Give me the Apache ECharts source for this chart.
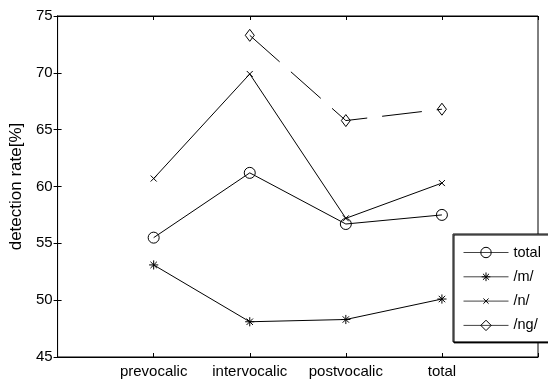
<!DOCTYPE html>
<html>
<head>
<meta charset="utf-8">
<script src="https://cdn.jsdelivr.net/npm/echarts@6/dist/echarts.min.js"></script>
<style>
html,body{margin:0;padding:0;background:#fff;}
#chart{width:548px;height:380px;}
</style>
</head>
<body>
<div id="chart"></div>
<script>
// ---- data ----
var categories = ['prevocalic', 'intervocalic', 'postvocalic', 'total'];
var totalRate = [55.5, 61.2, 56.7, 57.5];
var mRate = [53.1, 48.1, 48.3, 50.1];
var nRate = [60.7, 69.9, 57.2, 60.3];
var ngRate = [null, 73.3, 65.8, 66.8];
var yTicks = [45, 50, 55, 60, 65, 70, 75];

function pairs(arr) {
  var out = [];
  arr.forEach(function (v, i) { if (v !== null) out.push([i + 1, v]); });
  return out;
}

// glyphs with padded bounding boxes (moveTo points enlarge the box)
var asterisk = 'path://M-12,-12 M12,12 M0,-10 L0,10 M-10,0 L10,0 M-7,-7 L7,7 M-7,7 L7,-7';
var cross = 'path://M-20,-20 M20,20 M-10,-10 L10,10 M-10,10 L10,-10';
var diamond = 'path://M0,-10 L7.5,0 L0,10 L-7.5,0 Z';

function mk(name, arr, symbol, size, dash) {
  return {
    name: name,
    type: 'line',
    data: pairs(arr),
    symbol: symbol,
    symbolSize: size,
    symbolKeepAspect: true,
    showSymbol: true,
    animation: false,
    lineStyle: { color: '#000', width: 1, type: dash || 'solid' },
    itemStyle: { color: 'rgba(0,0,0,0)', borderColor: '#000', borderWidth: 1 },
    emphasis: { disabled: true }
  };
}

var chart = echarts.init(document.getElementById('chart'), null, { renderer: 'canvas' });
var font = 'Liberation Sans, Arial, sans-serif';
chart.setOption({
  backgroundColor: '#fff',
  animation: false,
  textStyle: { fontFamily: font, color: '#000' },
  grid: { left: 53, right: 10, top: 16, bottom: 23, show: true, borderColor: '#000', borderWidth: 1, backgroundColor: 'transparent' },
  legend: {
    left: 453, top: 234,
    orient: 'vertical',
    data: ['total', '/m/', '/n/', '/ng/'],
    backgroundColor: '#fff',
    borderColor: '#000',
    borderWidth: 1,
    shadowColor: '#000', shadowOffsetX: 1, shadowOffsetY: 1, shadowBlur: 0,
    padding: [11, 60, 9, 10],
    itemWidth: 45, itemHeight: 13, itemGap: 9.3,
    lineStyle: { width: 1, type: 'solid', color: '#444' },
    itemStyle: { borderWidth: 1, borderColor: '#000', color: 'rgba(0,0,0,0)' },
    textStyle: { fontSize: 14.5, fontFamily: font, color: '#000' },
    selectedMode: false
  },
  xAxis: [{
    type: 'value', min: 0, max: 5, interval: 1,
    axisLine: { show: true, lineStyle: { color: '#000' } },
    axisTick: { show: true, inside: true, length: 4, lineStyle: { color: '#000' } },
    splitLine: { show: false },
    axisLabel: {
      fontSize: 15, color: '#000', margin: 7, fontFamily: font,
      formatter: function (v) { return (v >= 1 && v <= categories.length) ? categories[v - 1] : ''; }
    }
  }, {
    type: 'value', min: 0, max: 5, interval: 1, position: 'top',
    axisLine: { show: true, lineStyle: { color: '#000' } },
    axisTick: { show: true, inside: true, length: 4, lineStyle: { color: '#000' } },
    splitLine: { show: false },
    axisLabel: { show: false }
  }],
  yAxis: [{
    type: 'value', min: yTicks[0], max: yTicks[yTicks.length - 1], interval: 5,
    name: 'detection rate[%]', nameLocation: 'middle', nameGap: 27,
    nameTextStyle: { fontSize: 17, color: '#000', fontFamily: font },
    axisLine: { show: true, lineStyle: { color: '#000' } },
    axisTick: { show: true, inside: true, length: 4, lineStyle: { color: '#000' } },
    splitLine: { show: false },
    axisLabel: { fontSize: 15, color: '#000', margin: 5, fontFamily: font }
  }, {
    type: 'value', min: yTicks[0], max: yTicks[yTicks.length - 1], interval: 5, position: 'right',
    axisLine: { show: true, lineStyle: { color: '#000' } },
    axisTick: { show: true, inside: true, length: 4, lineStyle: { color: '#000' } },
    splitLine: { show: false },
    axisLabel: { show: false }
  }],
  series: [
    mk('total', totalRate, 'circle', 11),
    mk('/m/', mRate, asterisk, 11),
    mk('/n/', nRate, cross, 12),
    mk('/ng/', ngRate, diamond, 12, [40, 15])
  ]
});
</script>
</body>
</html>
